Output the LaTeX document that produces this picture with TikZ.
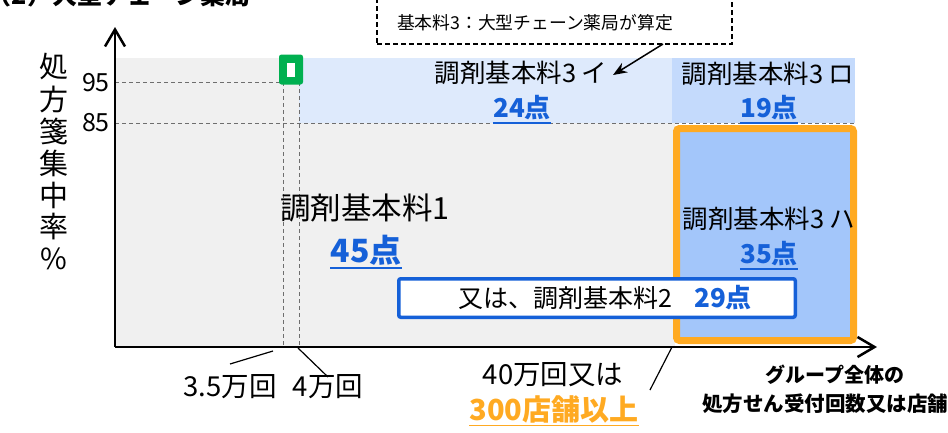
\documentclass[tikz,border=0pt]{standalone}
\usepackage{fontspec}
\setmainfont{Noto Sans CJK JP}
\usetikzlibrary{arrows.meta}
\definecolor{bggray}{HTML}{F0F0F0}
\definecolor{bandA}{HTML}{DEEAFC}
\definecolor{bandB}{HTML}{C4DAFC}
\definecolor{boxfill}{HTML}{A3C6FA}
\definecolor{orangeC}{HTML}{FFAA22}
\definecolor{ptblue}{HTML}{1560D8}
\definecolor{greenC}{HTML}{00B050}
\definecolor{gridgray}{HTML}{6E6E6E}
\newcommand\myfs[1]{\fontsize{#1}{#1}\selectfont}
\begin{document}
\begin{tikzpicture}[x=1pt,y=-1pt,
  lbl/.style={inner sep=0pt, font=\myfs{25}},
  kl/.style={inner sep=0pt, font=\myfs{25.5}},
  pts/.style={inner sep=0pt, text=ptblue, font=\bfseries\myfs{26}},
  ulblue/.style={draw=ptblue, line width=1.8pt},
  gridline/.style={draw=gridgray, line width=1pt, dash pattern=on 4pt off 3pt},
  axis/.style={line width=2.5pt, -{Straight Barb[length=17pt,width=20pt,line width=2.5pt]}},
  leader/.style={line width=1.2pt},
  callbox/.style={draw, line width=1.5pt, dash pattern=on 5pt off 3pt, fill=white}
]
\path[use as bounding box, clip] (0,0) rectangle (948,432);

% background regions
\fill[bggray] (115,58) rectangle (675,346);
\fill[bandA] (299,58) rectangle (672,123);
\fill[bandB] (672,58) rectangle (855,123);

% grid lines
\draw[gridline] (115,82) -- (283,82);
\draw[gridline] (115,123) -- (855,123);
\draw[gridline] (283,82) -- (283,346);
\draw[gridline] (299,82) -- (299,346);

% orange box (3 ha)
\node[draw=orangeC, fill=boxfill, line width=7pt, rounded corners=3pt,
      minimum width=177pt, minimum height=212pt, inner sep=0pt] (boxH) at (765,234.5) {};

% green marker
\node[fill=greenC, rounded corners=2.5pt, minimum width=24pt, minimum height=30pt, inner sep=0pt] (mark) at (291,69.5) {};
\node[fill=white, minimum width=8pt, minimum height=14pt, inner sep=0pt] (markin) at (291,70) {};

% axes
\coordinate (origin) at (115,347);
\coordinate (ytop) at (115,27);
\coordinate (xend) at (877,347);
\draw[axis] (origin) -- (ytop);
\draw[axis] (origin) -- (xend);

% y tick labels
\node[lbl, anchor=east] (y95) at (110,83) {95};
\node[lbl, anchor=east] (y85) at (110,123) {85};

% vertical y label
\foreach \c [count=\i] in {処,方,箋,集,中,率,\%}
  \node[inner sep=0pt, font=\myfs{29}] (yl\i) at (54,{67+32*(\i-1)}) {\c};

% region labels
\node[inner sep=0pt, font=\myfs{30.5}] (k1) at (365,208) {調剤基本料1};
\node[pts, font=\bfseries\myfs{32}] (p45) at (366,250) {45点};
\node[kl] (k3i) at (521,73) {調剤基本料3 イ};
\node[pts] (p24) at (522,108) {24点};
\node[kl] (k3ro) at (768,74) {調剤基本料3 ロ};
\node[pts] (p19) at (769,108) {19点};
\node[kl] (k3ha) at (769,219) {調剤基本料3 ハ};
\node[pts] (p35) at (769,254) {35点};
\foreach \n in {p45,p24,p19,p35}
  \draw[ulblue] ([yshift=-2.5pt]\n.south west) -- ([yshift=-2.5pt]\n.south east);

% kihon 2 box
\node[draw=ptblue, fill=white, line width=3.5pt, rounded corners=2pt,
      minimum width=396.5pt, minimum height=38.5pt, inner sep=0pt] (box2) at (597,298) {};
\node[lbl] (k2) at (565,298) {又は、調剤基本料2};
\node[pts] (p29) at (723,298) {29点};

% callout
\node[callbox, minimum width=355pt, minimum height=60pt, inner sep=0pt] (callout) at (554.5,14) {};
\node[inner sep=0pt, font=\myfs{17.8}] (calltext) at (535,22.5) {基本料3：大型チェーン薬局が算定};
\coordinate (cfrom) at (663,44);
\coordinate (ctip) at (613,75);
\draw[line width=1.5pt, -{Stealth[length=14pt,width=11pt]}] (cfrom) -- (ctip);

% title (cut at top, as in the reference)
\node[inner sep=0pt, anchor=base east, font=\bfseries\myfs{25}] (title) at (251,4) {（2）大型チェーン薬局};

% x-axis labels
\node[inner sep=0pt, font=\myfs{27.5}] (t35) at (230,387) {3.5万回};
\node[inner sep=0pt, font=\myfs{27.5}] (t4) at (328,387) {4万回};
\node[inner sep=0pt, font=\myfs{27.5}] (t40) at (553,375) {40万回又は};
\node[inner sep=0pt, text=orangeC, font=\bfseries\myfs{29}] (t300) at (554,409) {300店舗以上};
\draw[draw=orangeC, line width=1.8pt] ([yshift=-2.5pt]t300.south west) -- ([yshift=-2.5pt]t300.south east);
\node[inner sep=0pt, font=\bfseries\myfs{20}] (xl1) at (835,375) {グループ全体の};
\node[inner sep=0pt, anchor=west, font=\bfseries\myfs{20.5}] (xl2) at (702,404) {処方せん受付回数又は店舗};

% leader lines
\coordinate (l35a) at (230,364); \coordinate (l35b) at (273,351);
\coordinate (l4a) at (298,348);  \coordinate (l4b) at (328,377);
\coordinate (l40a) at (672,347); \coordinate (l40b) at (650,390);
\draw[leader] (l35a) -- (l35b);
\draw[leader] (l4a) -- (l4b);
\draw[leader] (l40a) -- (l40b);
\end{tikzpicture}
\end{document}
